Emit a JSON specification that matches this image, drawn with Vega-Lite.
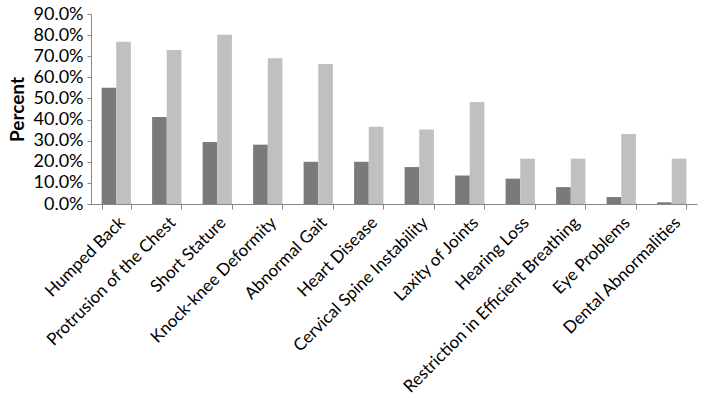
{
  "$schema": "https://vega.github.io/schema/vega-lite/v6.json",
  "width": 606,
  "height": 190,
  "autosize": {"type": "none"},
  "padding": {"left": 91, "top": 14, "right": 9, "bottom": 204},
  "background": "white",
  "config": {
    "view": {"stroke": null},
    "font": "Lato"
  },
  "data": {
    "values": [
      {"condition": "Humped Back", "series": "A", "value": 0.551},
      {"condition": "Humped Back", "series": "B", "value": 0.769},
      {"condition": "Protrusion of the Chest", "series": "A", "value": 0.412},
      {"condition": "Protrusion of the Chest", "series": "B", "value": 0.729},
      {"condition": "Short Stature", "series": "A", "value": 0.294},
      {"condition": "Short Stature", "series": "B", "value": 0.802},
      {"condition": "Knock-knee Deformity", "series": "A", "value": 0.281},
      {"condition": "Knock-knee Deformity", "series": "B", "value": 0.69},
      {"condition": "Abnormal Gait", "series": "A", "value": 0.2},
      {"condition": "Abnormal Gait", "series": "B", "value": 0.663},
      {"condition": "Heart Disease", "series": "A", "value": 0.2},
      {"condition": "Heart Disease", "series": "B", "value": 0.366},
      {"condition": "Cervical Spine Instability", "series": "A", "value": 0.175},
      {"condition": "Cervical Spine Instability", "series": "B", "value": 0.353},
      {"condition": "Laxity of Joints", "series": "A", "value": 0.135},
      {"condition": "Laxity of Joints", "series": "B", "value": 0.483},
      {"condition": "Hearing Loss", "series": "A", "value": 0.12},
      {"condition": "Hearing Loss", "series": "B", "value": 0.215},
      {"condition": "Restriction in Efficient Breathing", "series": "A", "value": 0.08},
      {"condition": "Restriction in Efficient Breathing", "series": "B", "value": 0.215},
      {"condition": "Eye Problems", "series": "A", "value": 0.033},
      {"condition": "Eye Problems", "series": "B", "value": 0.332},
      {"condition": "Dental Abnormalities", "series": "A", "value": 0.008},
      {"condition": "Dental Abnormalities", "series": "B", "value": 0.215}
    ]
  },
  "mark": {"type": "bar"},
  "encoding": {
    "x": {
      "field": "condition",
      "type": "nominal",
      "sort": null,
      "scale": {"paddingInner": 0.42, "paddingOuter": 0.21},
      "axis": {
        "title": null,
        "labelAngle": -45,
        "labelAlign": "right",
        "labelBaseline": "top",
        "labelFontSize": 17,
        "labelColor": "black",
        "labelPadding": 5,
        "tickBand": "extent",
        "tickSize": 5,
        "tickColor": "#888888",
        "domainColor": "#888888",
        "labelLimit": 400
      }
    },
    "xOffset": {"field": "series", "type": "nominal"},
    "y": {
      "field": "value",
      "type": "quantitative",
      "scale": {"domain": [0, 0.9]},
      "axis": {
        "title": "Percent",
        "titleFontSize": 19,
        "titleFontWeight": "bold",
        "titleColor": "black",
        "titlePadding": 6,
        "format": ".1%",
        "values": [0, 0.1, 0.2, 0.3, 0.4, 0.5, 0.6, 0.7, 0.8, 0.9],
        "labelFontSize": 18,
        "labelColor": "black",
        "labelPadding": 4,
        "tickSize": 4,
        "tickColor": "#888888",
        "domainColor": "#888888",
        "grid": false
      }
    },
    "color": {
      "field": "series",
      "type": "nominal",
      "scale": {"domain": ["A", "B"], "range": ["#7a7a7a", "#c0c0c0"]},
      "legend": null
    }
  }
}
